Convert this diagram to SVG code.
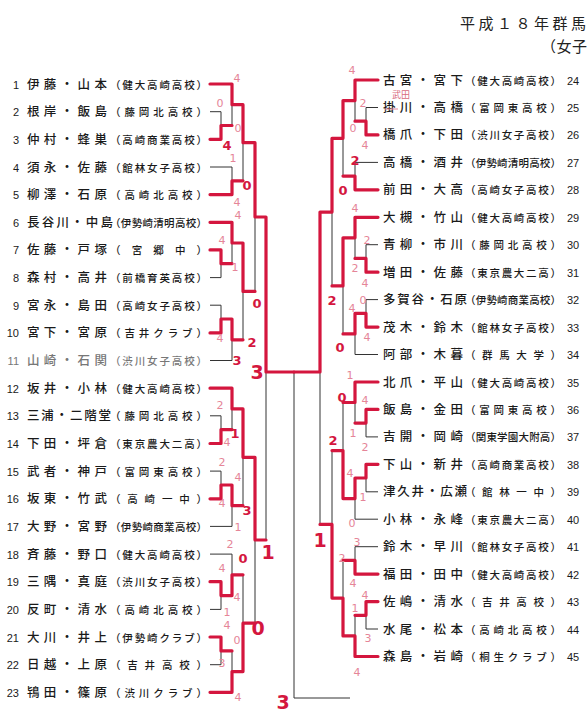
<svg xmlns="http://www.w3.org/2000/svg" width="588" height="714" viewBox="0 0 588 714">
<style>
text{font-family:"Noto Sans CJK JP","Noto Sans CJK SC",sans-serif;fill:#1a1a1a}
.nm{font-size:12.5px;font-weight:500}
.sc{font-size:10.5px;font-weight:500}
.no{font-family:"Liberation Sans",Arial,sans-serif;font-size:11px;text-anchor:end}
.nr{font-family:"Liberation Sans",Arial,sans-serif;font-size:11px}
.g text{fill:#777}
.k{fill:none;stroke:#333;stroke-width:1}
.r{fill:none;stroke:#d4163e;stroke-width:3.2;stroke-linejoin:round;stroke-linecap:round}
.s{font-family:"DejaVu Sans",sans-serif;font-size:11px;fill:#e58598;text-anchor:middle}
.b{font-family:"DejaVu Sans",sans-serif;font-size:13px;font-weight:bold;fill:#d4163e;text-anchor:middle}
.B{font-family:"DejaVu Sans",sans-serif;font-size:19px;font-weight:bold;fill:#d4163e;text-anchor:middle}
.t{font-size:15px;fill:#222}
</style>
<rect width="588" height="714" fill="#fff"/>
<g id="title">
<text class="t" x="460" y="29" textLength="126">平成１８年群馬</text>
<text class="t" x="541" y="52" textLength="46">（女子</text>
</g>
<g id="p1"><text class="no" x="19" y="88.5">1</text><text class="nm" x="27" y="88.5" textLength="80">伊藤・山本</text><text class="sc" x="110" y="88.5" textLength="97">（健大高崎高校）</text></g>
<g id="p2"><text class="no" x="19" y="116.2">2</text><text class="nm" x="27" y="116.2" textLength="80">根岸・飯島</text><text class="sc" x="110" y="116.2" textLength="97">（藤岡北高校）</text></g>
<g id="p3"><text class="no" x="19" y="143.8">3</text><text class="nm" x="27" y="143.8" textLength="80">仲村・蜂巣</text><text class="sc" x="110" y="143.8" textLength="97">（高崎商業高校）</text></g>
<g id="p4"><text class="no" x="19" y="171.5">4</text><text class="nm" x="27" y="171.5" textLength="80">須永・佐藤</text><text class="sc" x="110" y="171.5" textLength="97">（館林女子高校）</text></g>
<g id="p5"><text class="no" x="19" y="199.1">5</text><text class="nm" x="27" y="199.1" textLength="80">柳澤・石原</text><text class="sc" x="110" y="199.1" textLength="97">（高崎北高校）</text></g>
<g id="p6"><text class="no" x="19" y="226.8">6</text><text class="nm" x="27" y="226.8" textLength="86">長谷川・中島</text><text class="sc" x="110" y="226.8" textLength="97">（伊勢崎清明高校）</text></g>
<g id="p7"><text class="no" x="19" y="254.4">7</text><text class="nm" x="27" y="254.4" textLength="80">佐藤・戸塚</text><text class="sc" x="110" y="254.4" textLength="97">（宮郷中）</text></g>
<g id="p8"><text class="no" x="19" y="282.1">8</text><text class="nm" x="27" y="282.1" textLength="80">森村・高井</text><text class="sc" x="110" y="282.1" textLength="97">（前橋育英高校）</text></g>
<g id="p9"><text class="no" x="19" y="309.7">9</text><text class="nm" x="27" y="309.7" textLength="80">宮永・島田</text><text class="sc" x="110" y="309.7" textLength="97">（高崎女子高校）</text></g>
<g id="p10"><text class="no" x="19" y="337.4">10</text><text class="nm" x="27" y="337.4" textLength="80">宮下・宮原</text><text class="sc" x="110" y="337.4" textLength="97">（吉井クラブ）</text></g>
<g id="p11" class="g"><text class="no" x="19" y="365">11</text><text class="nm" x="27" y="365" textLength="80">山崎・石関</text><text class="sc" x="110" y="365" textLength="97">（渋川女子高校）</text></g>
<g id="p12"><text class="no" x="19" y="392.7">12</text><text class="nm" x="27" y="392.7" textLength="80">坂井・小林</text><text class="sc" x="110" y="392.7" textLength="97">（健大高崎高校）</text></g>
<g id="p13"><text class="no" x="19" y="420.3">13</text><text class="nm" x="27" y="420.3" textLength="84">三浦・二階堂</text><text class="sc" x="110" y="420.3" textLength="97">（藤岡北高校）</text></g>
<g id="p14"><text class="no" x="19" y="448">14</text><text class="nm" x="27" y="448" textLength="80">下田・坪倉</text><text class="sc" x="110" y="448" textLength="97">（東京農大二高）</text></g>
<g id="p15"><text class="no" x="19" y="475.6">15</text><text class="nm" x="27" y="475.6" textLength="80">武者・神戸</text><text class="sc" x="110" y="475.6" textLength="97">（富岡東高校）</text></g>
<g id="p16"><text class="no" x="19" y="503.3">16</text><text class="nm" x="27" y="503.3" textLength="80">坂東・竹武</text><text class="sc" x="110" y="503.3" textLength="97">（高崎一中）</text></g>
<g id="p17"><text class="no" x="19" y="530.9">17</text><text class="nm" x="27" y="530.9" textLength="80">大野・宮野</text><text class="sc" x="110" y="530.9" textLength="97">（伊勢崎商業高校）</text></g>
<g id="p18"><text class="no" x="19" y="558.6">18</text><text class="nm" x="27" y="558.6" textLength="80">斉藤・野口</text><text class="sc" x="110" y="558.6" textLength="97">（健大高崎高校）</text></g>
<g id="p19"><text class="no" x="19" y="586.2">19</text><text class="nm" x="27" y="586.2" textLength="80">三隅・真庭</text><text class="sc" x="110" y="586.2" textLength="97">（渋川女子高校）</text></g>
<g id="p20"><text class="no" x="19" y="613.9">20</text><text class="nm" x="27" y="613.9" textLength="80">反町・清水</text><text class="sc" x="110" y="613.9" textLength="97">（高崎北高校）</text></g>
<g id="p21"><text class="no" x="19" y="641.5">21</text><text class="nm" x="27" y="641.5" textLength="80">大川・井上</text><text class="sc" x="110" y="641.5" textLength="97">（伊勢崎クラブ）</text></g>
<g id="p22"><text class="no" x="19" y="669.2">22</text><text class="nm" x="27" y="669.2" textLength="80">日越・上原</text><text class="sc" x="110" y="669.2" textLength="97">（吉井高校）</text></g>
<g id="p23"><text class="no" x="19" y="696.8">23</text><text class="nm" x="27" y="696.8" textLength="80">鴇田・篠原</text><text class="sc" x="110" y="696.8" textLength="97">（渋川クラブ）</text></g>
<g id="p24"><text class="nm" x="383" y="84.5" textLength="80">古宮・宮下</text><text class="sc" x="465" y="84.5" textLength="96">（健大高崎高校）</text><text class="nr" x="567" y="84.5">24</text></g>
<g id="p25"><text class="nm" x="383" y="112" textLength="80">掛川・高橋</text><text class="sc" x="465" y="112" textLength="96">（富岡東高校）</text><text class="nr" x="567" y="112">25</text></g>
<g id="p26"><text class="nm" x="383" y="139.4" textLength="80">橋爪・下田</text><text class="sc" x="465" y="139.4" textLength="96">（渋川女子高校）</text><text class="nr" x="567" y="139.4">26</text></g>
<g id="p27"><text class="nm" x="383" y="166.9" textLength="80">高橋・酒井</text><text class="sc" x="465" y="166.9" textLength="96">（伊勢崎清明高校）</text><text class="nr" x="567" y="166.9">27</text></g>
<g id="p28"><text class="nm" x="383" y="194.3" textLength="80">前田・大高</text><text class="sc" x="465" y="194.3" textLength="96">（高崎女子高校）</text><text class="nr" x="567" y="194.3">28</text></g>
<g id="p29"><text class="nm" x="383" y="221.8" textLength="80">大槻・竹山</text><text class="sc" x="465" y="221.8" textLength="96">（健大高崎高校）</text><text class="nr" x="567" y="221.8">29</text></g>
<g id="p30"><text class="nm" x="383" y="249.2" textLength="80">青柳・市川</text><text class="sc" x="465" y="249.2" textLength="96">（藤岡北高校）</text><text class="nr" x="567" y="249.2">30</text></g>
<g id="p31"><text class="nm" x="383" y="276.7" textLength="80">増田・佐藤</text><text class="sc" x="465" y="276.7" textLength="96">（東京農大二高）</text><text class="nr" x="567" y="276.7">31</text></g>
<g id="p32"><text class="nm" x="383" y="304.1" textLength="84">多賀谷・石原</text><text class="sc" x="465" y="304.1" textLength="96">（伊勢崎商業高校）</text><text class="nr" x="567" y="304.1">32</text></g>
<g id="p33"><text class="nm" x="383" y="331.6" textLength="80">茂木・鈴木</text><text class="sc" x="465" y="331.6" textLength="96">（館林女子高校）</text><text class="nr" x="567" y="331.6">33</text></g>
<g id="p34"><text class="nm" x="383" y="359" textLength="80">阿部・木暮</text><text class="sc" x="465" y="359" textLength="96">（群馬大学）</text><text class="nr" x="567" y="359">34</text></g>
<g id="p35"><text class="nm" x="383" y="386.5" textLength="80">北爪・平山</text><text class="sc" x="465" y="386.5" textLength="96">（健大高崎高校）</text><text class="nr" x="567" y="386.5">35</text></g>
<g id="p36"><text class="nm" x="383" y="413.9" textLength="80">飯島・金田</text><text class="sc" x="465" y="413.9" textLength="96">（富岡東高校）</text><text class="nr" x="567" y="413.9">36</text></g>
<g id="p37"><text class="nm" x="383" y="441.4" textLength="80">吉開・岡崎</text><text class="sc" x="465" y="441.4" textLength="96">（関東学園大附高）</text><text class="nr" x="567" y="441.4">37</text></g>
<g id="p38"><text class="nm" x="383" y="468.8" textLength="80">下山・新井</text><text class="sc" x="465" y="468.8" textLength="96">（高崎商業高校）</text><text class="nr" x="567" y="468.8">38</text></g>
<g id="p39"><text class="nm" x="383" y="496.3" textLength="84">津久井・広瀬</text><text class="sc" x="465" y="496.3" textLength="96">（館林一中）</text><text class="nr" x="567" y="496.3">39</text></g>
<g id="p40"><text class="nm" x="383" y="523.7" textLength="80">小林・永峰</text><text class="sc" x="465" y="523.7" textLength="96">（東京農大二高）</text><text class="nr" x="567" y="523.7">40</text></g>
<g id="p41"><text class="nm" x="383" y="551.2" textLength="80">鈴木・早川</text><text class="sc" x="465" y="551.2" textLength="96">（館林女子高校）</text><text class="nr" x="567" y="551.2">41</text></g>
<g id="p42"><text class="nm" x="383" y="578.6" textLength="80">福田・田中</text><text class="sc" x="465" y="578.6" textLength="96">（健大高崎高校）</text><text class="nr" x="567" y="578.6">42</text></g>
<g id="p43"><text class="nm" x="383" y="606.1" textLength="80">佐嶋・清水</text><text class="sc" x="465" y="606.1" textLength="96">（吉井高校）</text><text class="nr" x="567" y="606.1">43</text></g>
<g id="p44"><text class="nm" x="383" y="633.5" textLength="80">水尾・松本</text><text class="sc" x="465" y="633.5" textLength="96">（高崎北高校）</text><text class="nr" x="567" y="633.5">44</text></g>
<g id="p45"><text class="nm" x="383" y="661" textLength="80">森島・岩崎</text><text class="sc" x="465" y="661" textLength="96">（桐生クラブ）</text><text class="nr" x="567" y="661">45</text></g>
<g id="connectors">
<path class="k" d="M210 84H232M210 111.7H221M210 139.3H221M210 167H232M210 194.6H232M210 222.3H232M210 249.9H221M210 277.6H221M210 305.2H221M210 332.9H221M210 360.5H232M210 388.2H232M210 415.8H221M210 443.5H221M210 471.1H221M210 498.8H221M210 526.4H232M210 554.1H232M210 581.7H221M210 609.4H221M210 637H221M210 664.7H221M210 692.3H232
M221 111.7V139.3M221 125.5H232M232 84V125.5M232 104.7H243M232 167V194.6M232 180.8H243M243 104.7V180.8M243 142.7H255
M221 249.9V277.6M221 263.7H232M232 222.3V263.7M232 243H243M221 305.2V332.9M221 319H232M232 319V360.5M232 339.8H243M243 243V339.8M243 291.4H255M255 142.7V291.4M255 217H266
M221 415.8V443.5M221 429.6H232M232 388.2V429.6M232 408.9H243M221 471.1V498.8M221 485H232M232 485V526.4M232 505.7H243M243 408.9V505.7M243 457.3H255
M221 581.7V609.4M221 595.6H232M232 554.1V595.6M232 574.8H243M221 637V664.7M221 650.9H232M232 650.9V692.3M232 671.6H243M243 574.8V671.6M243 623.2H255M255 457.3V623.2M255 540H266M266 217V540M266 372H294"/>
<path class="k" d="M378 80H355M378 107.5H366M378 134.9H366M378 162.4H355M378 189.8H355M378 217.3H355M378 244.7H366M378 272.2H366M378 299.6H366M378 327.1H366M378 354.5H355M378 382H355M378 409.4H366M378 436.9H366M378 464.3H366M378 491.8H366M378 519.2H355M378 546.7H355M378 574.1H355M378 601.6H366M378 629H366M378 656.5H355
M366 107.5V134.9M366 121.2H355M355 80V121.2M355 100.6H343M355 162.4V189.8M355 176.1H343M343 100.6V176.1M343 138.3H332
M366 244.7V272.2M366 258.4H355M355 217.3V258.4M355 237.8H343M366 299.6V327.1M366 313.3H355M355 313.3V354.5M355 333.9H343M343 237.8V333.9M343 285.9H332M332 138.3V285.9M332 212.1H320
M366 409.4V436.9M366 423.1H355M355 382V423.1M355 402.5H343M366 464.3V491.8M366 478H355M355 478V519.2M355 498.6H343M343 402.5V498.6M343 450.6H332
M355 546.7V574.1M355 560.4H343M366 601.6V629M366 615.3H355M355 615.3V656.5M355 635.9H343M343 560.4V635.9M343 598.1H332M332 450.6V598.1M332 524.4H320M320 212.1V524.4M320 372H294"/>
<path class="k" d="M294 372V698H350"/>
<path class="r" d="M210 84H232V104.7H243V142.7H255V217H266V372H294"/>
<path class="r" d="M210 139.3H221V125.5H232"/>
<path class="r" d="M210 194.6H232V180.8H243"/>
<path class="r" d="M210 222.3H232V243H243V291.4H255"/>
<path class="r" d="M210 249.9H221V263.7H232"/>
<path class="r" d="M210 332.9H221V319H232V339.8H243"/>
<path class="r" d="M210 388.2H232V408.9H243V457.3H255V540H266"/>
<path class="r" d="M210 443.5H221V429.6H232"/>
<path class="r" d="M210 498.8H221V485H232V505.7H243"/>
<path class="r" d="M210 581.7H221V595.6H232V574.8H243"/>
<path class="r" d="M210 637H221V650.9H232"/>
<path class="r" d="M210 692.3H232V671.6H243V623.2H255"/>
<path class="r" d="M378 80H355V100.6H343V138.3H332V212.1H320V372H294"/>
<path class="r" d="M378 134.9H366V121.2H355"/>
<path class="r" d="M378 189.8H355V176.1H343"/>
<path class="r" d="M378 217.3H355V237.8H343V285.9H332"/>
<path class="r" d="M378 272.2H366V258.4H355"/>
<path class="r" d="M378 327.1H366V313.3H355V333.9H343"/>
<path class="r" d="M378 382H355V402.5H343"/>
<path class="r" d="M378 409.4H366V423.1H355"/>
<path class="r" d="M378 464.3H366V478H355V498.6H343V450.6H332"/>
<path class="r" d="M378 574.1H355V560.4H343"/>
<path class="r" d="M378 601.6H366V615.3H355"/>
<path class="r" d="M378 656.5H355V635.9H343V598.1H332V524.4H320"/>
</g>
<g id="scores">
<text class="s" x="237" y="82">4</text><text class="s" x="220" y="107">0</text><text class="s" x="238" y="132">0</text><text class="s" x="233" y="162">1</text><text class="s" x="237" y="206">4</text><text class="s" x="238" y="219">4</text><text class="s" x="222" y="244">4</text><text class="s" x="235" y="271">1</text><text class="s" x="220" y="342">4</text><text class="s" x="220" y="409">2</text><text class="s" x="227" y="446">4</text><text class="s" x="222" y="466">2</text><text class="s" x="238" y="481">4</text><text class="s" x="222" y="507">4</text><text class="s" x="238" y="531">1</text><text class="s" x="230" y="548">2</text><text class="s" x="222" y="572">4</text><text class="s" x="237" y="601">4</text><text class="s" x="227" y="616">1</text><text class="s" x="227" y="629">4</text><text class="s" x="237" y="644">0</text><text class="s" x="222" y="667">3</text><text class="s" x="238" y="701">4</text>
<text class="b" x="227" y="150">4</text><text class="b" x="247" y="190">0</text><text class="b" x="257" y="308">0</text><text class="b" x="252" y="347">2</text><text class="b" x="237" y="365">3</text><text class="b" x="235" y="438">1</text><text class="b" x="247" y="515">3</text><text class="b" x="243" y="563">0</text>
<text class="B" x="257" y="379">3</text><text class="B" x="268" y="559">1</text><text class="B" x="258" y="635">0</text><text class="B" x="283" y="709">3</text>
<text class="s" x="352" y="74">4</text><text class="s" x="363" y="107">2</text><text class="s" x="353" y="132">0</text><text class="s" x="365" y="149">4</text><text class="s" x="355" y="212">4</text><text class="s" x="367" y="244">2</text><text class="s" x="355" y="272">2</text><text class="s" x="365" y="287">4</text><text class="s" x="363" y="304">0</text><text class="s" x="352" y="312">4</text><text class="s" x="367" y="341">4</text><text class="s" x="350" y="379">1</text><text class="s" x="365" y="404">4</text><text class="s" x="353" y="437">1</text><text class="s" x="365" y="451">2</text><text class="s" x="350" y="477">4</text><text class="s" x="363" y="501">1</text><text class="s" x="352" y="527">0</text><text class="s" x="357" y="546">3</text><text class="s" x="342" y="562">2</text><text class="s" x="353" y="587">4</text><text class="s" x="365" y="599">4</text><text class="s" x="355" y="612">1</text><text class="s" x="368" y="642">3</text><text class="s" x="357" y="676">4</text>
<text class="b" x="355" y="165">2</text><text class="b" x="343" y="195">0</text><text class="b" x="332" y="305">2</text><text class="b" x="340" y="352">0</text><text class="b" x="342" y="402">0</text><text class="b" x="333" y="445">2</text>
<text class="B" x="320" y="547">1</text>
<text x="401" y="97.5" style="font-size:9px;fill:#d86a80;text-anchor:middle">武田</text>
<path d="M385 109H398" style="stroke:#e58598;stroke-width:1;fill:none"/>
</g>
</svg>
